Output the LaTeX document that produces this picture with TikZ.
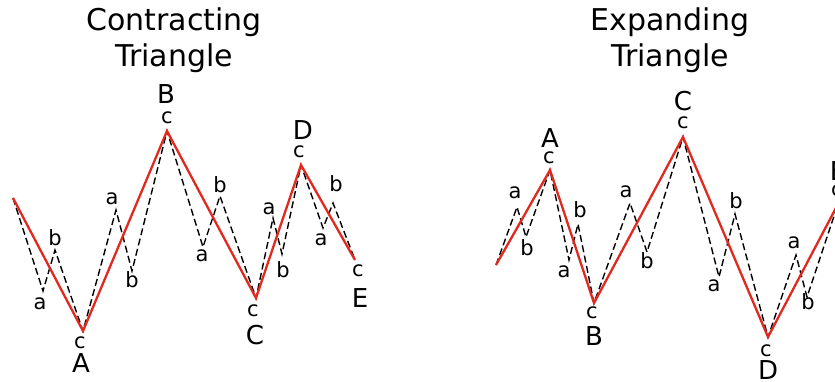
\documentclass[tikz,border=0pt]{standalone}
\usepackage{fontspec}
\setmainfont{DejaVu Sans}
\definecolor{wavered}{RGB}{224,42,32}
\tikzset{
  mainwave/.style={wavered, line width=2.3pt, line join=miter},
  subwave/.style={black, line width=1.4pt, dash pattern=on 7pt off 3.5pt},
  sublbl/.style={inner sep=0pt, font=\fontsize{21}{25}\selectfont},
  wavelbl/.style={inner sep=0pt, font=\fontsize{26}{30}\selectfont},
  titlelbl/.style={inner sep=0pt, align=center, anchor=north, font=\fontsize{30}{36}\selectfont}
}
\begin{document}
\begin{tikzpicture}[x=1pt, y=-1pt]
  \clip (0,0) rectangle (835,381);

  \node[titlelbl] (ttlC) at (174,8) {Contracting\\Triangle};
  \node[titlelbl] (ttlE) at (670,8) {Expanding\\Triangle};

  % contracting triangle
  \coordinate (cS) at (13,198);
  \coordinate (cA) at (83,331);
  \coordinate (cB) at (167,131);
  \coordinate (cC) at (256,298);
  \coordinate (cD) at (301,165);
  \coordinate (cE) at (355,260);
  \coordinate (ca1) at (43,291);  \coordinate (cb1) at (55,250);
  \coordinate (ca2) at (116,210); \coordinate (cb2) at (132,271);
  \coordinate (ca3) at (203,247); \coordinate (cb3) at (220,196);
  \coordinate (ca4) at (273,218); \coordinate (cb4) at (282,254);
  \coordinate (ca5) at (323,228); \coordinate (cb5) at (333,203);

  \draw[subwave] (cS) -- (ca1) -- (cb1) -- (cA) -- (ca2) -- (cb2) -- (cB) -- (ca3) -- (cb3)
    -- (cC) -- (ca4) -- (cb4) -- (cD) -- (ca5) -- (cb5) -- (cE);
  \draw[mainwave] (cS) -- (cA) -- (cB) -- (cC) -- (cD) -- (cE);

  \node[sublbl] (lca1) at (40,304) {a};  \node[sublbl] (lcb1) at (55,238) {b};
  \node[sublbl] (lcA) at (80,343) {c};   \node[wavelbl] (LcA) at (81,363) {A};
  \node[sublbl] (lca2) at (112,199) {a}; \node[sublbl] (lcb2) at (132,280) {b};
  \node[sublbl] (lcB) at (167,118) {c};  \node[wavelbl] (LcB) at (166,94) {B};
  \node[sublbl] (lca3) at (202,256) {a}; \node[sublbl] (lcb3) at (220,185) {b};
  \node[sublbl] (lcC) at (253,311) {c};  \node[wavelbl] (LcC) at (255,335) {C};
  \node[sublbl] (lca4) at (269,209) {a}; \node[sublbl] (lcb4) at (283,270) {b};
  \node[sublbl] (lcD) at (299,152) {c};  \node[wavelbl] (LcD) at (303,130) {D};
  \node[sublbl] (lca5) at (321,240) {a}; \node[sublbl] (lcb5) at (336,184) {b};
  \node[sublbl] (lcE) at (358,271) {c};  \node[wavelbl] (LcE) at (360,298) {E};

  % expanding triangle
  \coordinate (eS) at (496,265);
  \coordinate (eA) at (550,170);
  \coordinate (eB) at (594,303);
  \coordinate (eC) at (683,137);
  \coordinate (eD) at (768,337);
  \coordinate (eE) at (838,204);
  \coordinate (ea1) at (517,207); \coordinate (eb1) at (526,237);
  \coordinate (ea2) at (569,260); \coordinate (eb2) at (578,224);
  \coordinate (ea3) at (630,203); \coordinate (eb3) at (647,252);
  \coordinate (ea4) at (719,277); \coordinate (eb4) at (735,214);
  \coordinate (ea5) at (796,255); \coordinate (eb5) at (807,297);

  \draw[subwave] (eS) -- (ea1) -- (eb1) -- (eA) -- (ea2) -- (eb2) -- (eB) -- (ea3) -- (eb3)
    -- (eC) -- (ea4) -- (eb4) -- (eD) -- (ea5) -- (eb5) -- (eE);
  \draw[mainwave] (eS) -- (eA) -- (eB) -- (eC) -- (eD) -- (eE);

  \node[sublbl] (lea1) at (515,193) {a}; \node[sublbl] (leb1) at (527,248) {b};
  \node[sublbl] (leA) at (549,158) {c};  \node[wavelbl] (LeA) at (550,138) {A};
  \node[sublbl] (lea2) at (564,272) {a}; \node[sublbl] (leb2) at (580,210) {b};
  \node[sublbl] (leB) at (592,313) {c};  \node[wavelbl] (LeB) at (594,336) {B};
  \node[sublbl] (lea3) at (626,192) {a}; \node[sublbl] (leb3) at (647,261) {b};
  \node[sublbl] (leC) at (683,123) {c};  \node[wavelbl] (LeC) at (683,101) {C};
  \node[sublbl] (lea4) at (714,286) {a}; \node[sublbl] (leb4) at (736,201) {b};
  \node[sublbl] (leD) at (766,351) {c};  \node[wavelbl] (LeD) at (768,370) {D};
  \node[sublbl] (lea5) at (794,243) {a}; \node[sublbl] (leb5) at (808,302) {b};
  \node[sublbl] (leE) at (837,191) {c};  \node[wavelbl] (LeE) at (838,171) {E};
\end{tikzpicture}
\end{document}
